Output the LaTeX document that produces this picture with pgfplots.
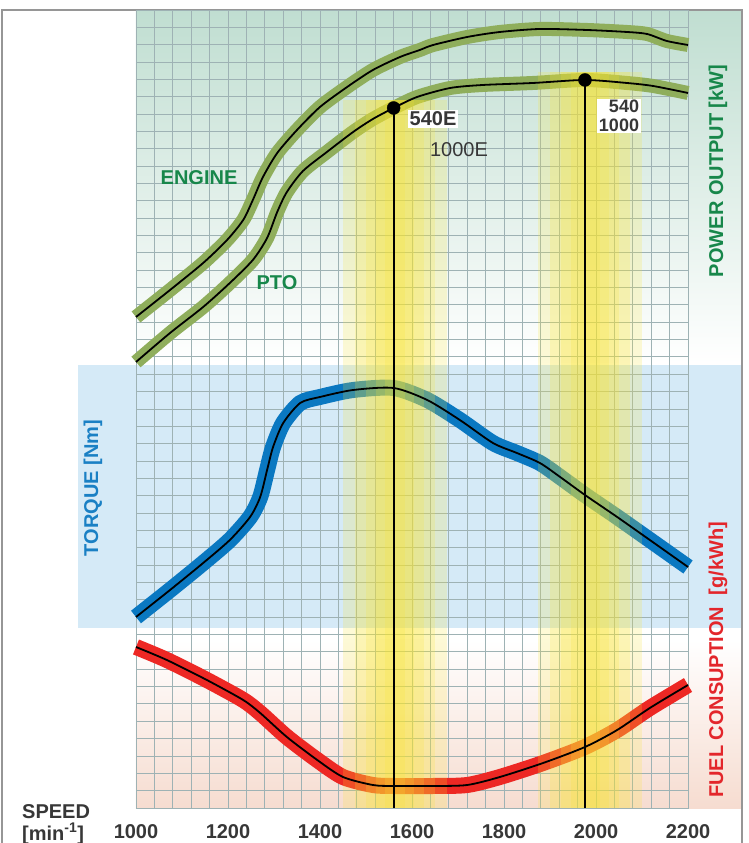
\documentclass[border=0pt]{standalone}
\usepackage{pgfplots}
\pgfplotsset{compat=1.18}
\usepackage{pgfplotstable}
\usepackage{fontspec}
\setmainfont{Liberation Sans}

\definecolor{gridc}{RGB}{158,178,180}
\definecolor{gtop}{RGB}{192,222,209}
\definecolor{gmid}{RGB}{212,233,225}
\definecolor{bluebg}{RGB}{213,234,247}
\definecolor{pinkbg}{RGB}{246,220,208}
\definecolor{framec}{RGB}{150,150,150}
\definecolor{greenc}{RGB}{143,174,92}
\definecolor{bluec}{RGB}{10,120,193}
\definecolor{redc}{RGB}{237,40,36}
\definecolor{bandy}{RGB}{248,228,50}
\definecolor{gtext}{RGB}{23,135,74}
\definecolor{btext}{RGB}{26,128,196}
\definecolor{rtext}{RGB}{227,38,43}
\definecolor{dtext}{RGB}{55,55,55}

\newcommand\lab{\fontsize{20bp}{22bp}\selectfont\bfseries}
\newcommand\labr{\fontsize{20bp}{22bp}\selectfont}
\newcommand\labs{\fontsize{18bp}{18.5bp}\selectfont\bfseries}

% power output (engine), px-based vertical units
\pgfplotstableread{
x y
1000 491
1074 518
1146 545
1198 568
1233 588
1254 608
1276 631
1307 655
1350 678
1400 701
1459 721
1515 738
1574 751
1617 758
1646 763
1720 771
1791 776
1878 779
1980 778
2067 776
2111 774
2154 767
2200 763
}\engine

\pgfplotstableread{
x y
1000 446
1074 475
1146 501
1204 525
1254 548
1285 570
1307 596
1328 616
1363 637
1415 656
1472 676
1515 689
1560 700
1611 711
1683 720
1754 723
1863 725
1976 728
2067 725
2124 722
2200 715
}\pto

\pgfplotstableread{
x y
1000 191
1074 218
1146 245
1204 268
1248 291
1270 311
1285 338
1298 361
1320 385
1357 405
1400 411
1472 418
1560 420
1633 408
1704 388
1776 365
1828 355
1878 345
1922 331
1976 313
2046 291
2117 268
2200 241
}\torque

\pgfplotstableread{
x y
1000 161
1067 148
1154 128
1233 108
1270 95
1328 71
1394 48
1450 31
1515 23
1560 22
1646 22
1720 23
1791 31
1885 45
1976 61
2046 78
2117 100
2200 123
}\fuel

\begin{document}
\begin{tikzpicture}[x=1bp,y=1bp]
\path[use as bounding box] (-136,-35) rectangle (613,808);
% backgrounds
\shade[top color=gtop, middle color=gmid, bottom color=white] (0,445) rectangle (606,798);
\fill[bluebg] (-58,180) rectangle (606,443);
\shade[top color=white, bottom color=pinkbg] (0,0) rectangle (606,168);
\draw[framec, line width=1.5bp] (-134,-35) -- (-134,798) -- (606,798) -- (606,-35);

\begin{axis}[
  at={(0,0)}, anchor=south west,
  scale only axis, width=552bp, height=798bp,
  xmin=1000, xmax=2200, ymin=0, ymax=798,
  xtick={1000,1200,1400,1600,1800,2000,2200},
  xticklabels={1000,1200,1400,1600,1800,2000,2200},
  minor x tick num=4,
  ytick distance=17.348,
  yticklabels={},
  grid=both,
  major grid style={gridc, line width=0.9bp},
  minor grid style={gridc, line width=0.9bp},
  tick style={draw=none},
  axis line style={gridc, line width=0.9bp},
  xticklabel style={font=\lab, text=dtext, inner sep=0pt, anchor=base, yshift=-30bp},
  clip=false,
]
% coloured curves
\addplot[smooth, tension=0.45, line width=14bp, greenc] table {\engine};
\addplot[smooth, tension=0.45, line width=14bp, greenc] table {\pto};
\addplot[smooth, tension=0.45, line width=16bp, bluec] table {\torque};
\addplot[smooth, tension=0.45, line width=16bp, redc] table {\fuel};
% yellow bands
\pgfplotsinvokeforeach{113,87,63,41,22}{
  \fill[bandy, fill opacity=0.2] (axis cs:1563-#1,0) rectangle (axis cs:1563+#1,708);
  \fill[bandy, fill opacity=0.2] (axis cs:1987-#1,0) rectangle (axis cs:1987+#1,736);
}
% black centre lines
\addplot[smooth, tension=0.45, line width=1.8bp, black] table {\engine};
\addplot[smooth, tension=0.45, line width=1.8bp, black] table {\pto};
\addplot[smooth, tension=0.45, line width=1.8bp, black] table {\torque};
\addplot[smooth, tension=0.45, line width=1.8bp, black] table {\fuel};
% operating points
\addplot[black, line width=1.8bp] coordinates {(1560,700) (1560,0)};
\addplot[black, line width=1.8bp] coordinates {(1976,728) (1976,0)};
\addplot[only marks, mark=*, mark size=6.5bp, black] coordinates {(1560,700) (1976,728)};
\end{axis}

% texts
\node[text=gtext, font=\lab] at (63,630) {ENGINE};
\node[text=gtext, font=\lab] at (141,525) {PTO};
\node[fill=white, inner sep=1.5bp, text=dtext, font=\lab] at (297,689) {540E};
\node[text=dtext, font=\labr] at (323,658) {1000E};
\node[fill=white, inner sep=1.5bp, text=dtext, font=\labs, align=right] at (483,692) {540\\1000};
\node[rotate=90, text=gtext, font=\lab] at (582,637) {POWER OUTPUT [kW]};
\node[rotate=90, text=rtext, font=\lab] at (582,148) {FUEL CONSUPTION\hspace{6bp} [g/kWh]};
\node[rotate=90, text=btext, font=\lab] at (-43,320) {TORQUE [Nm]};
\node[anchor=base west, text=dtext, font=\lab, inner sep=0pt] at (-114,-10) {SPEED};
\node[anchor=base west, text=dtext, font=\lab, inner sep=0pt] at (-114,-32) {[min\textsuperscript{-1}]};
\end{tikzpicture}
\end{document}
